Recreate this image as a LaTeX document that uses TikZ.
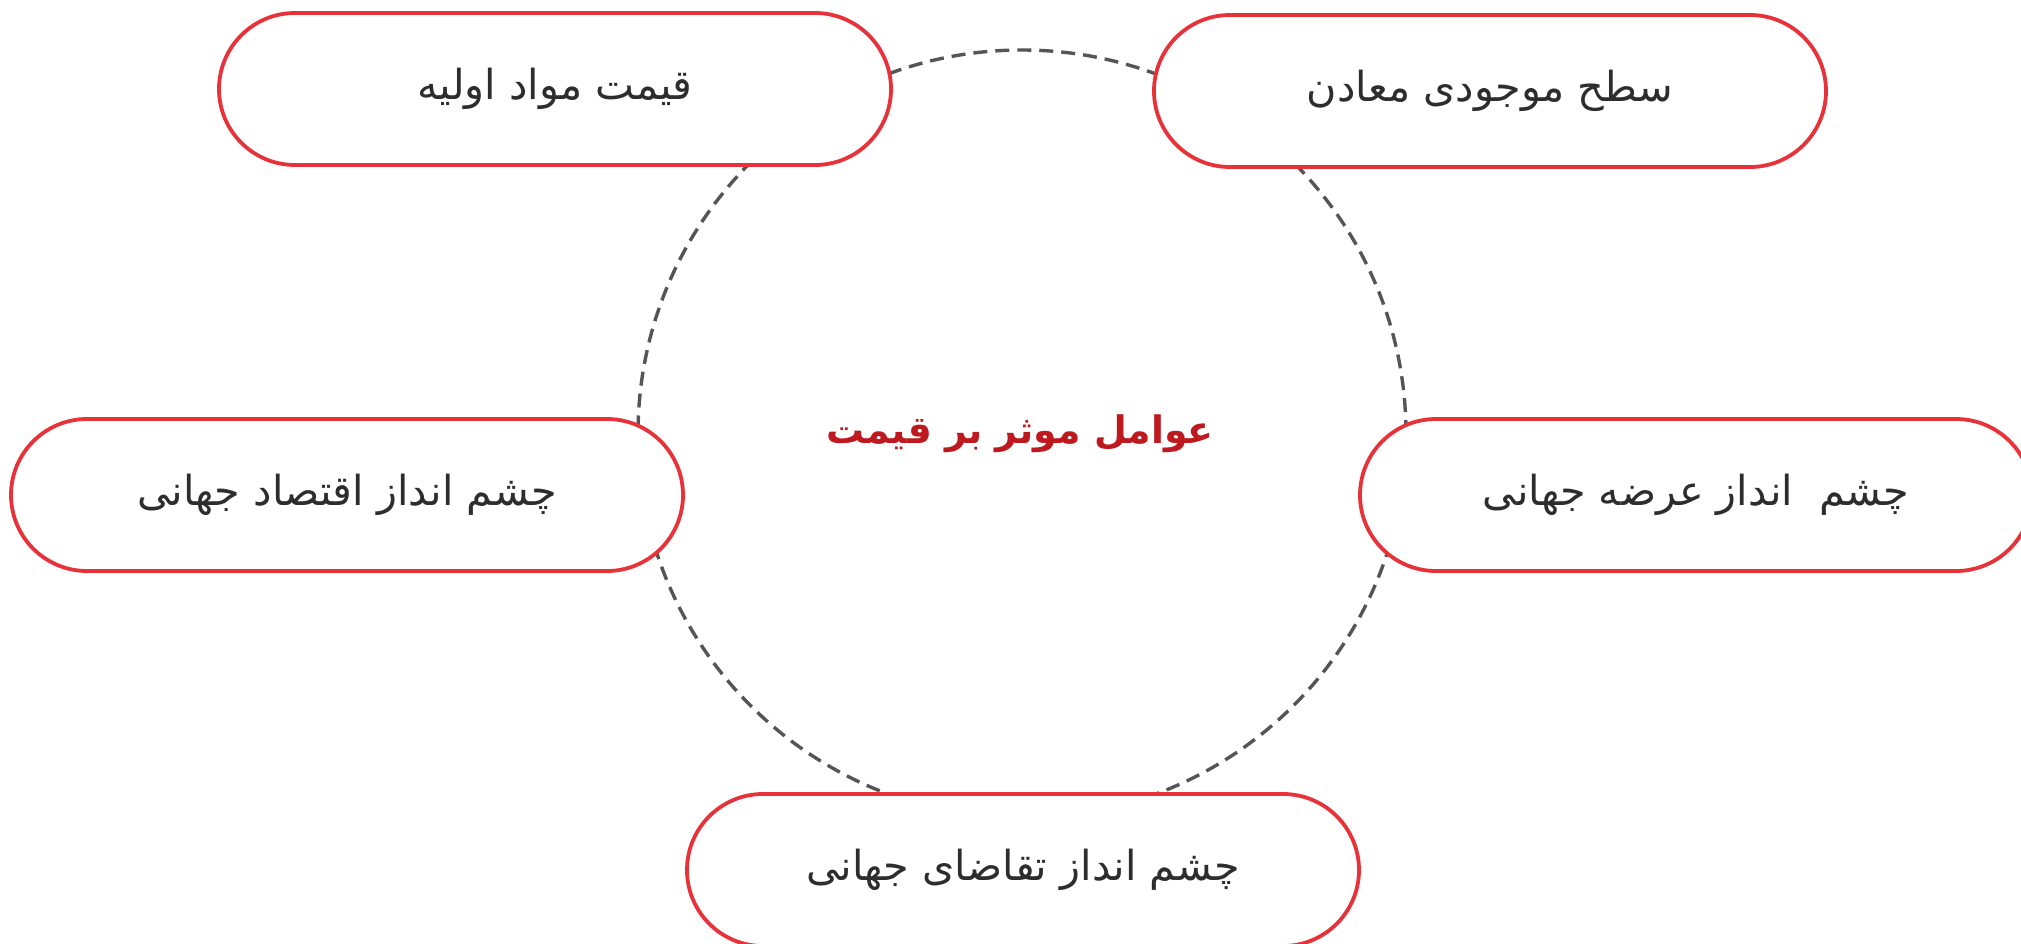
\documentclass[tikz,border=0pt]{standalone}
\usepackage{fontspec}
\newfontfamily\arabicfont[Script=Arabic]{DejaVu Sans}
\TeXXeTstate=1
\definecolor{boxred}{RGB}{232,50,58}
\definecolor{textgray}{RGB}{45,45,45}
\definecolor{ringgray}{RGB}{85,85,85}
\definecolor{titlered}{RGB}{190,25,30}
\begin{document}
\begin{tikzpicture}[x=1bp,y=-1bp,
  factor/.style={draw=boxred, line width=3.8bp, fill=white, rectangle, rounded corners=76bp,
    minimum width=672bp, minimum height=152bp, inner sep=0pt,
    font=\arabicfont\fontsize{41.5}{48}\selectfont, text=textgray},
  ringstyle/.style={circle, draw=ringgray, dash pattern=on 14bp off 8bp, line width=3.4bp,
    minimum size=768bp, inner sep=0pt},
  titlestyle/.style={font=\arabicfont\bfseries\fontsize{38}{44}\selectfont, text=titlered}
]
\useasboundingbox (0,0) rectangle (2021,944);
\node[ringstyle] (ring) at (1022,434) {};
\node[titlestyle] (title) at (1020,434) {\beginR عوامل موثر بر قیمت\endR};
\node[factor] (f1) at (555,89) {\beginR قیمت مواد اولیه\endR};
\node[factor] (f2) at (1490,91) {\beginR سطح موجودی معادن\endR};
\node[factor] (f3) at (347,495) {\beginR چشم انداز اقتصاد جهانی\endR};
\node[factor] (f4) at (1696,495) {\beginR چشم\ \ انداز عرضه جهانی\endR};
\node[factor] (f5) at (1023,870) {\beginR چشم انداز تقاضای جهانی\endR};
\end{tikzpicture}
\end{document}
